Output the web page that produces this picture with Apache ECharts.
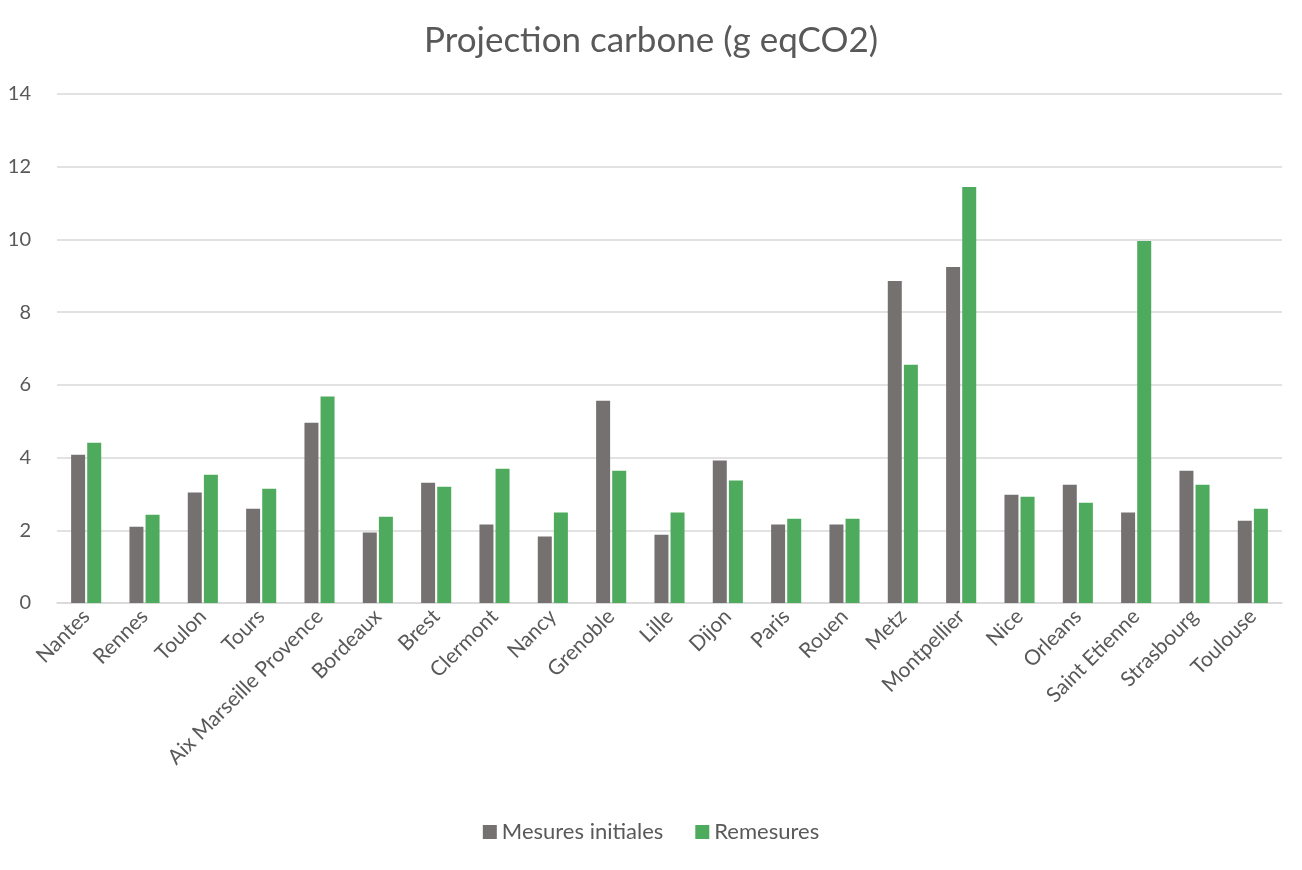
<!DOCTYPE html>
<html>
<head>
<meta charset="utf-8">
<script src="https://cdn.jsdelivr.net/npm/echarts@6/dist/echarts.min.js"></script>
<style>
html,body{margin:0;padding:0;background:#fff;}
#chart{width:1302px;height:870px;}
</style>
</head>
<body>
<div id="chart"></div>
<script>
const categories = ["Nantes","Rennes","Toulon","Tours","Aix Marseille Provence","Bordeaux","Brest","Clermont","Nancy","Grenoble","Lille","Dijon","Paris","Rouen","Metz","Montpellier","Nice","Orleans","Saint Etienne","Strasbourg","Toulouse"];
const mesuresInitiales = [4.08,2.10,3.04,2.59,4.96,1.94,3.31,2.16,1.83,5.56,1.88,3.92,2.16,2.16,8.86,9.24,2.98,3.25,2.49,3.64,2.26];
const remesures = [4.41,2.43,3.53,3.14,5.68,2.37,3.20,3.69,2.49,3.64,2.49,3.37,2.32,2.32,6.55,11.44,2.92,2.76,9.96,3.25,2.59];
const yTicks = [0,2,4,6,8,10,12,14];

const font = 'Lato, "Noto Sans", sans-serif';
const chart = echarts.init(document.getElementById('chart'));
chart.setOption({
  animation: false,
  backgroundColor: '#ffffff',
  title: {
    text: 'Projection carbone (g eqCO2)',
    left: 'center', top: 18,
    textStyle: {fontFamily: font, fontSize: 35, fontWeight: 'normal', color: '#595959'}
  },
  legend: {
    bottom: 22, left: 'center',
    itemWidth: 14, itemHeight: 14, itemGap: 32,
    icon: 'rect',
    textStyle: {fontFamily: font, fontSize: 22, color: '#595959'},
    data: ['Mesures initiales','Remesures']
  },
  grid: {left: 57, right: 20, top: 94, bottom: 267, containLabel: false},
  xAxis: {
    type: 'category',
    data: categories,
    axisLine: {show: true, lineStyle: {color: '#d9d9d9', width: 1.5}},
    axisTick: {show: false},
    axisLabel: {rotate: 45, margin: 10, interval: 0, fontFamily: font, fontSize: 21, color: '#595959'}
  },
  yAxis: {
    type: 'value',
    min: yTicks[0], max: yTicks[yTicks.length-1], interval: 2,
    axisLine: {show: false},
    axisTick: {show: false},
    splitLine: {lineStyle: {color: '#d9d9d9', width: 1.5}},
    axisLabel: {margin: 26, fontFamily: font, fontSize: 20, color: '#595959'}
  },
  series: [
    {name: 'Mesures initiales', type: 'bar', data: mesuresInitiales, barWidth: 14, barGap: '15%', itemStyle: {color: '#767171'}},
    {name: 'Remesures', type: 'bar', data: remesures, barWidth: 14, barGap: '15%', itemStyle: {color: '#4eaa5c'}}
  ]
});
</script>
</body>
</html>
